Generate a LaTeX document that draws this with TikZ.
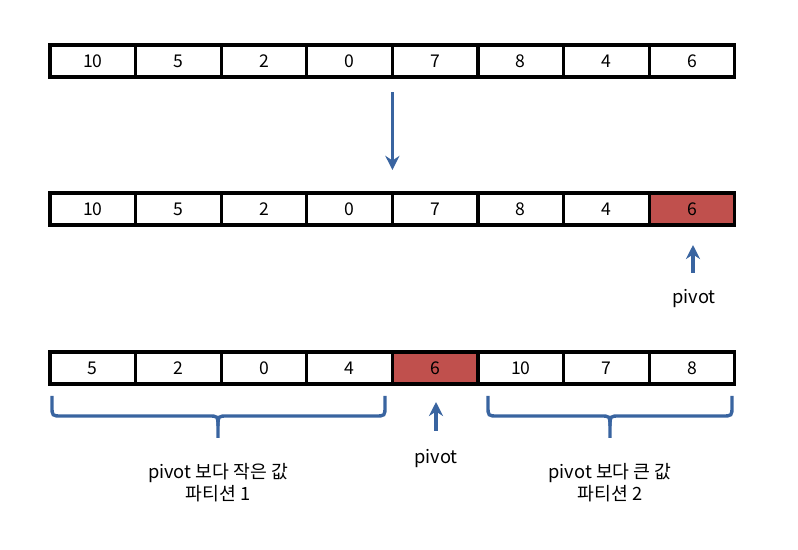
\documentclass[tikz,border=0pt]{standalone}
\usepackage{fontspec}
\setmainfont{Noto Sans CJK KR}
\usepackage{tikz}
\usetikzlibrary{arrows.meta}
\definecolor{pivotred}{RGB}{192,80,77}
\definecolor{arrowblue}{RGB}{57,100,160}

\begin{document}
\begin{tikzpicture}[
        x=0.025cm, y=-0.025cm,
        cell_block/.style={draw, rectangle, minimum width=2.14cm, minimum height=0.8cm, inner sep=0pt, outer sep=0pt, line width=2.2pt, fill=white, font=\fontsize{12.5}{14}\selectfont},
        pivot_block/.style={cell_block, fill=pivotred},
        arrow/.style={arrows={-Stealth[length=10pt,width=10pt]}, line width=2.4pt, draw=arrowblue},
        brace_line/.style={line width=2.4pt, draw=arrowblue},
        label_text/.style={font=\fontsize{13}{15.5}\selectfont, align=center}
    ]
        \useasboundingbox (0,0) rectangle (798,550);

        % original array
        \node (r1c1) at (92.8, 61) [cell_block] {10};
        \node (r1c2) at (178.4, 61) [cell_block] {5};
        \node (r1c3) at (264.0, 61) [cell_block] {2};
        \node (r1c4) at (349.6, 61) [cell_block] {0};
        \node (r1c5) at (435.2, 61) [cell_block] {7};
        \node (r1c6) at (520.8, 61) [cell_block] {8};
        \node (r1c7) at (606.4, 61) [cell_block] {4};
        \node (r1c8) at (692.0, 61) [cell_block] {6};

        % pivot chosen
        \node (r2c1) at (92.8, 209) [cell_block] {10};
        \node (r2c2) at (178.4, 209) [cell_block] {5};
        \node (r2c3) at (264.0, 209) [cell_block] {2};
        \node (r2c4) at (349.6, 209) [cell_block] {0};
        \node (r2c5) at (435.2, 209) [cell_block] {7};
        \node (r2c6) at (520.8, 209) [cell_block] {8};
        \node (r2c7) at (606.4, 209) [cell_block] {4};
        \node (r2c8) at (692.0, 209) [pivot_block] {6};

        % after partition
        \node (r3c1) at (92.8, 368) [cell_block] {5};
        \node (r3c2) at (178.4, 368) [cell_block] {2};
        \node (r3c3) at (264.0, 368) [cell_block] {0};
        \node (r3c4) at (349.6, 368) [cell_block] {4};
        \node (r3c5) at (435.2, 368) [pivot_block] {6};
        \node (r3c6) at (520.8, 368) [cell_block] {10};
        \node (r3c7) at (606.4, 368) [cell_block] {7};
        \node (r3c8) at (692.0, 368) [cell_block] {8};

        % labels
        \node (piv2) at (694, 299) [label_text] {pivot};
        \node (piv3) at (436, 459) [label_text] {pivot};
        \node (part1) at (218, 483) [label_text] {pivot 보다 작은 값\\파티션 1};
        \node (part2) at (610, 483) [label_text] {pivot 보다 큰 값\\파티션 2};

        % arrows
        \draw [arrow, shorten <=0.375cm, shorten >=0.575cm] (r1c4.south east) -- (r2c4.north east);
        \coordinate (tail2) at (693, 273);
        \draw [arrow, shorten >=0.5cm] (tail2) -- (r2c8.south -| tail2);
        \coordinate (tail3) at (436, 431);
        \draw [arrow, shorten >=0.45cm] (tail3) -- (r3c5.south -| tail3);

        % braces
        \draw [brace_line] (52,396) -- (52,406) .. controls (52,416) .. (62,416) -- (208,416) .. controls (218,416) .. (218,426) -- (218,438);
        \draw [brace_line] (218,426) .. controls (218,416) .. (228,416) -- (375,416) .. controls (385,416) .. (385,406) -- (385,396);
        \draw [brace_line] (488,396) -- (488,406) .. controls (488,416) .. (498,416) -- (600,416) .. controls (610,416) .. (610,426) -- (610,438);
        \draw [brace_line] (610,426) .. controls (610,416) .. (620,416) -- (722,416) .. controls (732,416) .. (732,406) -- (732,396);

    \end{tikzpicture}
\end{document}
